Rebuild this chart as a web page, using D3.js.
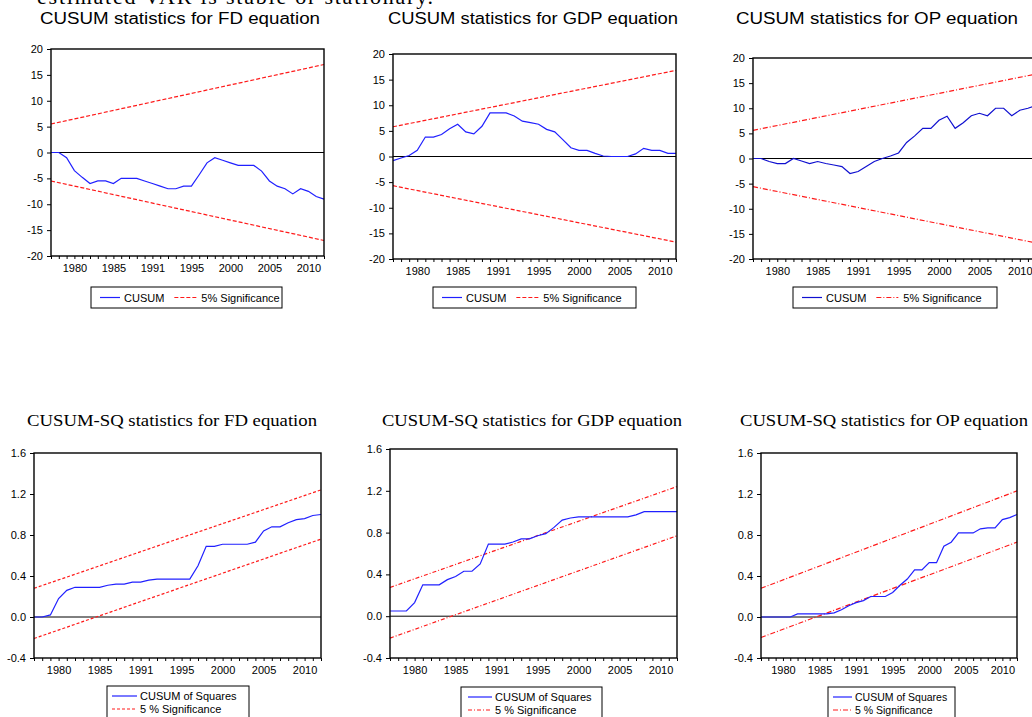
<!DOCTYPE html>
<html>
<head>
<meta charset="utf-8">
<script src="https://cdn.jsdelivr.net/npm/d3@7"></script>
<style>
  body { margin: 0; background: #fff; }
  svg { display: block; }
</style>
</head>
<body>
<div id="chart"></div>
<script>
// observation years (x categories)
const years = [1977, 1978, 1979, 1980, 1981, 1982, 1983, 1984, 1985, 1986, 1987, 1988,
  1989, 1990, 1991, 1992, 1993, 1994, 1995, 1996, 1997, 1998, 1999, 2000,
  2001, 2002, 2003, 2004, 2005, 2006, 2007, 2008, 2009, 2010, 2011, 2012];

// x tick labels as printed (the "1991" label sits where 1990 is)
const xTickYears = [1980, 1985, 1990, 1995, 2000, 2005, 2010];
const xTickLabels = ["1980", "1985", "1991", "1995", "2000", "2005", "2010"];

const cusumTicks = [-20, -15, -10, -5, 0, 5, 10, 15, 20];
const cusumSqTicks = [-0.4, 0.0, 0.4, 0.8, 1.2, 1.6];

// CUSUM series
const cusumFD = [0, 0, -1, -3.5, -4.8, -6, -5.5, -5.5, -6, -5, -5, -5,
  -5.5, -6, -6.5, -7, -7, -6.5, -6.5, -4.3, -2, -1, -1.5, -2,
  -2.5, -2.5, -2.5, -3.6, -5.5, -6.5, -7, -8, -7, -7.5, -8.5, -9];
const cusumGDP = [-0.8, -0.3, 0.2, 1.2, 3.8, 3.8, 4.3, 5.4, 6.3, 4.8, 4.4, 5.9,
  8.5, 8.5, 8.5, 7.9, 6.9, 6.6, 6.3, 5.3, 4.8, 3.3, 1.7, 1.2,
  1.2, 0.6, 0.1, 0, 0, 0, 0.5, 1.6, 1.2, 1.2, 0.6, 0.6];
const cusumOP = [0, 0, -0.6, -1, -1, 0, -0.5, -1, -0.6, -1, -1.3, -1.6,
  -3, -2.6, -1.6, -0.6, 0, 0.5, 1.1, 3.2, 4.5, 6, 6, 7.6,
  8.4, 6, 7.1, 8.5, 9, 8.5, 10, 10, 8.5, 9.6, 10, 10.5];

// CUSUM of squares series
const cusumSqFD = [0, 0, 0.02, 0.18, 0.26, 0.29, 0.29, 0.29, 0.29, 0.31, 0.32, 0.32,
  0.34, 0.34, 0.36, 0.37, 0.37, 0.37, 0.37, 0.37, 0.5, 0.69, 0.69, 0.71,
  0.71, 0.71, 0.71, 0.73, 0.84, 0.88, 0.88, 0.92, 0.95, 0.96, 0.99, 1.0];
const cusumSqGDP = [0.05, 0.05, 0.05, 0.13, 0.3, 0.3, 0.3, 0.35, 0.38, 0.43, 0.43, 0.5,
  0.69, 0.69, 0.69, 0.71, 0.74, 0.74, 0.77, 0.79, 0.85, 0.92, 0.94, 0.95,
  0.95, 0.95, 0.95, 0.95, 0.95, 0.95, 0.97, 1.0, 1.0, 1.0, 1.0, 1.0];
const cusumSqOP = [0, 0, 0, 0, 0, 0.03, 0.03, 0.03, 0.03, 0.03, 0.04, 0.07,
  0.11, 0.14, 0.16, 0.2, 0.2, 0.2, 0.24, 0.31, 0.37, 0.46, 0.46, 0.53,
  0.53, 0.69, 0.73, 0.82, 0.82, 0.82, 0.86, 0.87, 0.87, 0.95, 0.97, 1.0];

// 5% significance bands: [value at first year, value at last year]
const upperFD = [5.5, 17], lowerFD = [-5.5, -17];
const upperGDP = [5.8, 16.8], lowerGDP = [-5.7, -16.7];
const upperOP = [5.6, 16.8], lowerOP = [-5.6, -16.8];
const upperSqFD = [0.28, 1.24], lowerSqFD = [-0.21, 0.76];
const upperSqGDP = [0.275, 1.24], lowerSqGDP = [-0.21, 0.77];
const upperSqOP = [0.28, 1.23], lowerSqOP = [-0.2, 0.73];

const sans = "'Liberation Sans', Arial, sans-serif";
const serif = "'Liberation Serif', 'Times New Roman', serif";

const svg = d3.select("#chart").append("svg")
  .attr("width", 1032)
  .attr("height", 717);

// cut-off sentence from the page above the figure
svg.append("text")
  .attr("x", 37).attr("y", 4)
  .attr("font-family", serif)
  .attr("font-size", 22)
  .attr("textLength", 396)
  .text("estimated VAR is stable or stationary.");

function drawPanel(p) {
  const x = d3.scaleLinear().domain([years[0], years[years.length - 1]]).range([p.left, p.right]);
  const y = d3.scaleLinear().domain([p.ticks[0], p.ticks[p.ticks.length - 1]]).range([p.bottom, p.top]);
  const g = svg.append("g");

  // title
  g.append("text")
    .attr("x", p.titleX).attr("y", p.titleY)
    .attr("text-anchor", "middle")
    .attr("font-family", p.titleFont)
    .attr("font-size", p.titleSize)
    .attr("textLength", p.titleLen)
    .attr("lengthAdjust", "spacingAndGlyphs")
    .text(p.title);

  // y axis
  const yAxis = g.append("g")
    .attr("transform", `translate(${p.left},0)`)
    .call(d3.axisLeft(y).tickValues(p.ticks).tickSize(4).tickPadding(4).tickFormat(p.fmt));
  yAxis.select(".domain").remove();
  yAxis.selectAll("text").attr("font-family", sans).attr("font-size", 11).attr("fill", "#000");

  // x axis, a tick for every year, labels at the major ones
  const xAxis = g.append("g")
    .attr("transform", `translate(0,${p.bottom})`)
    .call(d3.axisBottom(x).tickValues(years).tickSize(3).tickPadding(5)
      .tickFormat(d => {
        const i = xTickYears.indexOf(d);
        return i >= 0 ? xTickLabels[i] : "";
      }));
  xAxis.select(".domain").remove();
  xAxis.selectAll("text").attr("font-family", sans).attr("font-size", 11).attr("fill", "#000");

  // zero line
  g.append("line")
    .attr("x1", p.left).attr("x2", p.right)
    .attr("y1", y(0)).attr("y2", y(0))
    .attr("stroke", "#000").attr("stroke-width", 1);

  // significance bands
  const band = d3.line().x(d => x(d[0])).y(d => y(d[1]));
  [p.upper, p.lower].forEach(b => {
    g.append("path")
      .attr("d", band([[years[0], b[0]], [years[years.length - 1], b[1]]]))
      .attr("fill", "none")
      .attr("stroke", "#ff1a1a")
      .attr("stroke-width", 1.2)
      .attr("stroke-dasharray", p.dash);
  });

  // statistic
  const line = d3.line().x((d, i) => x(years[i])).y(d => y(d));
  g.append("path")
    .attr("d", line(p.values))
    .attr("fill", "none")
    .attr("stroke", p.color)
    .attr("stroke-width", 1.2);

  // frame
  g.append("rect")
    .attr("x", p.left).attr("y", p.top)
    .attr("width", p.right - p.left).attr("height", p.bottom - p.top)
    .attr("fill", "none").attr("stroke", "#000").attr("stroke-width", 1.4);

  // legend
  const lg = g.append("g").attr("font-family", sans).attr("font-size", 11);
  lg.append("rect")
    .attr("x", p.legX).attr("y", p.legY)
    .attr("width", p.legW).attr("height", p.legH)
    .attr("fill", "#fff").attr("stroke", "#000").attr("stroke-width", 1);

  if (p.legRows === 1) {
    const cy = p.legY + 10.5;
    lg.append("line").attr("x1", p.legX + 9).attr("x2", p.legX + 29)
      .attr("y1", cy).attr("y2", cy).attr("stroke", p.color).attr("stroke-width", 1.2);
    const t1 = lg.append("text").attr("x", p.legX + 33).attr("y", cy + 4).text("CUSUM");
    const x2 = p.legX + 33 + t1.node().getComputedTextLength() + 10;
    lg.append("line").attr("x1", x2).attr("x2", x2 + 22)
      .attr("y1", cy).attr("y2", cy).attr("stroke", "#ff1a1a")
      .attr("stroke-width", 1.2).attr("stroke-dasharray", p.dash);
    lg.append("text").attr("x", x2 + 27).attr("y", cy + 4).text("5% Significance");
  } else {
    const rows = [
      { label: "CUSUM of Squares", color: p.color, dash: null },
      { label: "5 % Significance", color: "#ff1a1a", dash: p.dash }
    ];
    rows.forEach((r, i) => {
      const cy = p.legY + 10 + i * 13;
      lg.append("line").attr("x1", p.legX + p.legLine[0]).attr("x2", p.legX + p.legLine[1])
        .attr("y1", cy).attr("y2", cy).attr("stroke", r.color)
        .attr("stroke-width", 1.2).attr("stroke-dasharray", r.dash);
      lg.append("text").attr("x", p.legX + p.legLine[1] + 3).attr("y", cy + 4)
        .attr("font-size", p.legFont)
        .text(r.label);
    });
  }
}

const fmtInt = d => String(d);
const fmtDec = d => d.toFixed(1);

const panels = [
  { title: "CUSUM statistics for FD equation", titleX: 180, titleY: 24, titleLen: 280,
    titleFont: sans, titleSize: 16,
    left: 51, right: 324, top: 49, bottom: 256, ticks: cusumTicks, fmt: fmtInt,
    values: cusumFD, upper: upperFD, lower: lowerFD, color: "#2020ff", dash: "4,2",
    legX: 91, legY: 287, legW: 191, legH: 21, legRows: 1 },
  { title: "CUSUM statistics for GDP equation", titleX: 533, titleY: 24, titleLen: 290,
    titleFont: sans, titleSize: 16,
    left: 393, right: 676, top: 54, bottom: 259, ticks: cusumTicks, fmt: fmtInt,
    values: cusumGDP, upper: upperGDP, lower: lowerGDP, color: "#2020ff", dash: "4,2",
    legX: 433, legY: 287, legW: 203, legH: 21, legRows: 1 },
  { title: "CUSUM statistics for OP equation", titleX: 877, titleY: 24, titleLen: 282,
    titleFont: sans, titleSize: 16,
    left: 753, right: 1036, top: 58, bottom: 259, ticks: cusumTicks, fmt: fmtInt,
    values: cusumOP, upper: upperOP, lower: lowerOP, color: "#1010d0", dash: "5,2,1,2",
    legX: 793, legY: 287, legW: 204, legH: 21, legRows: 1 },
  { title: "CUSUM-SQ statistics for FD equation", titleX: 172, titleY: 426, titleLen: 290,
    titleFont: serif, titleSize: 17,
    left: 34, right: 321, top: 453, bottom: 658, ticks: cusumSqTicks, fmt: fmtDec,
    values: cusumSqFD, upper: upperSqFD, lower: lowerSqFD, color: "#2020ff", dash: "3,2",
    legX: 107, legY: 686, legW: 142, legH: 36, legRows: 2, legLine: [5, 30], legFont: 11 },
  { title: "CUSUM-SQ statistics for GDP equation", titleX: 532, titleY: 426, titleLen: 300,
    titleFont: serif, titleSize: 17,
    left: 390, right: 677, top: 449, bottom: 658, ticks: cusumSqTicks, fmt: fmtDec,
    values: cusumSqGDP, upper: upperSqGDP, lower: lowerSqGDP, color: "#2020ff", dash: "4,2,1,2",
    legX: 461, legY: 687, legW: 141, legH: 36, legRows: 2, legLine: [7, 31], legFont: 11 },
  { title: "CUSUM-SQ statistics for OP equation", titleX: 884, titleY: 426, titleLen: 288,
    titleFont: serif, titleSize: 17,
    left: 761, right: 1017, top: 453, bottom: 658, ticks: cusumSqTicks, fmt: fmtDec,
    values: cusumSqOP, upper: upperSqOP, lower: lowerSqOP, color: "#2020ff", dash: "5,2,1,2",
    legX: 828, legY: 687, legW: 127, legH: 36, legRows: 2, legLine: [5, 24], legFont: 10.5 }
];

panels.forEach(drawPanel);
</script>
</body>
</html>
